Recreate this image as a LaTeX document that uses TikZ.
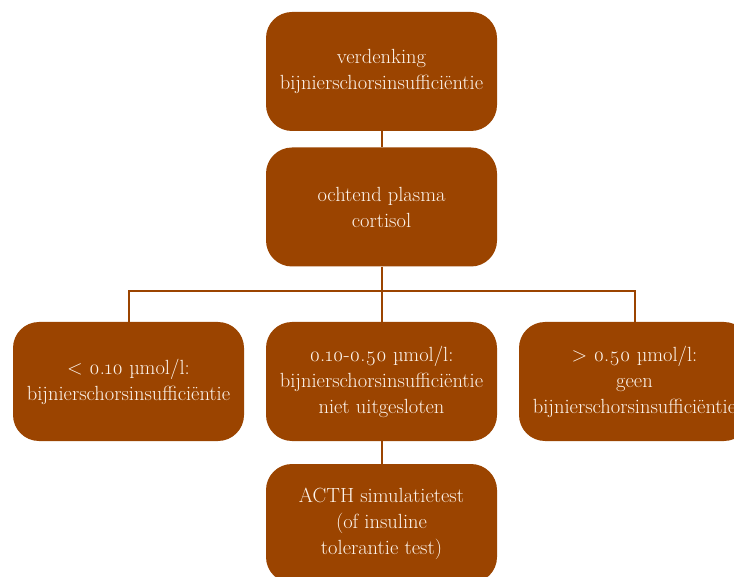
\documentclass[tikz,border=0pt]{standalone}
\usepackage{fontspec}
\defaultfontfeatures{Numbers=OldStyle}
\setmainfont{Latin Modern Roman}
\definecolor{boxbrown}{RGB}{155,68,0}
\definecolor{boxtext}{RGB}{253,244,236}
\tikzset{
	stepbox/.style={fill=boxbrown, draw=none, rounded corners=26pt, minimum width=231pt, minimum height=119pt, text=boxtext, align=center, font=\fontsize{20.5}{26}\selectfont, inner sep=0pt},
	link/.style={draw=boxbrown, line width=2pt}
}
\begin{document}
\begin{tikzpicture}[x=1pt, y=-1pt]
	\useasboundingbox (0,0) rectangle (734,577);
	\clip (0,0) rectangle (734,577);
	\node[stepbox] (suspect) at (381.5,71.5) {verdenking\\bijnierschorsinsufficiëntie};
	\node[stepbox] (cortisol) at (381.5,207) {ochtend plasma\\cortisol};
	\node[stepbox] (low) at (128.5,381.5) {< 0.10 µmol/l:\\bijnierschorsinsufficiëntie};
	\node[stepbox] (mid) at (381.5,381.5) {0.10-0.50 µmol/l:\\bijnierschorsinsufficiëntie\\niet uitgesloten};
	\node[stepbox] (high) at (634.5,381.5) {> 0.50 µmol/l:\\geen\\bijnierschorsinsufficiëntie};
	\node[stepbox] (acth) at (381.5,523.5) {ACTH simulatietest\\(of insuline\\tolerantie test)};
	\coordinate (split) at (381.5,291);
	\draw[link] (suspect) -- (cortisol);
	\draw[link] (cortisol) -- (split);
	\draw[link] (low.north) |- (split) -| (high.north);
	\draw[link] (split) -- (mid);
	\draw[link] (mid) -- (acth);
\end{tikzpicture}
\end{document}
